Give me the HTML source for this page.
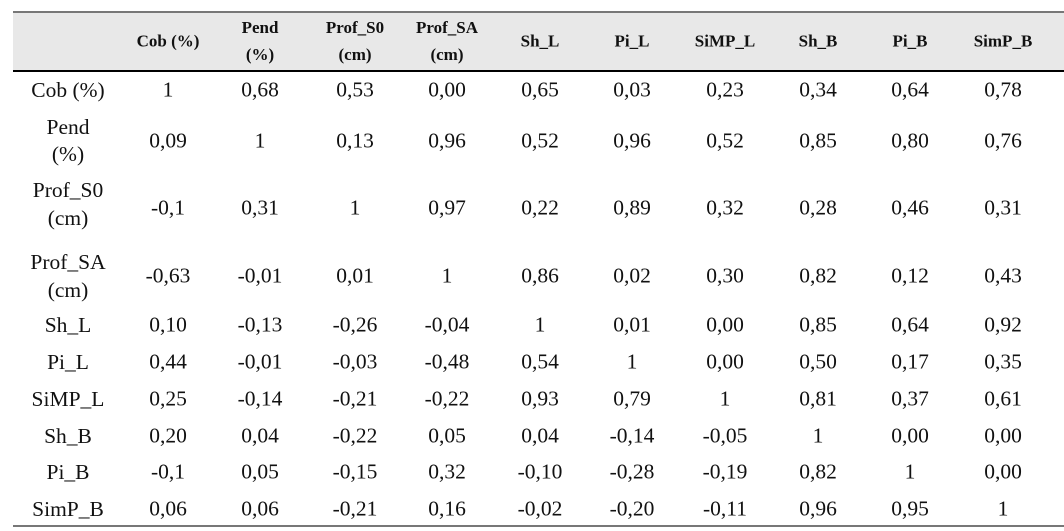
<!DOCTYPE html>
<html><head><meta charset="utf-8"><style>
body{margin:0;background:#fff;width:1064px;height:531px;overflow:hidden;position:relative;font-family:"Liberation Serif",serif;color:#111}
.t{position:absolute;transform:translate(-50%,-50%);white-space:nowrap;text-align:center}
.b{font-size:21.5px}
.h{font-size:17px;font-weight:bold;line-height:27px}
</style></head><body>
<div style="position:absolute;left:13px;top:12px;width:1051px;height:59px;background:#e8e8e8"></div>
<div style="position:absolute;left:13px;top:11px;width:1051px;height:2px;background:#777"></div>
<div style="position:absolute;left:13px;top:70px;width:1051px;height:2px;background:#000"></div>
<div style="position:absolute;left:13px;top:525px;width:1051px;height:2px;background:#777"></div>
<div id="tbl"></div>
<script>
const colHeaders=["Cob (%)","Pend<br>(%)","Prof_S0<br>(cm)","Prof_SA<br>(cm)","Sh_L","Pi_L","SiMP_L","Sh_B","Pi_B","SimP_B"];
const rowLabels=["Cob (%)","Pend<br>(%)","Prof_S0<br>(cm)","Prof_SA<br>(cm)","Sh_L","Pi_L","SiMP_L","Sh_B","Pi_B","SimP_B"];
const cells=[
["1","0,68","0,53","0,00","0,65","0,03","0,23","0,34","0,64","0,78"],
["0,09","1","0,13","0,96","0,52","0,96","0,52","0,85","0,80","0,76"],
["-0,1","0,31","1","0,97","0,22","0,89","0,32","0,28","0,46","0,31"],
["-0,63","-0,01","0,01","1","0,86","0,02","0,30","0,82","0,12","0,43"],
["0,10","-0,13","-0,26","-0,04","1","0,01","0,00","0,85","0,64","0,92"],
["0,44","-0,01","-0,03","-0,48","0,54","1","0,00","0,50","0,17","0,35"],
["0,25","-0,14","-0,21","-0,22","0,93","0,79","1","0,81","0,37","0,61"],
["0,20","0,04","-0,22","0,05","0,04","-0,14","-0,05","1","0,00","0,00"],
["-0,1","0,05","-0,15","0,32","-0,10","-0,28","-0,19","0,82","1","0,00"],
["0,06","0,06","-0,21","0,16","-0,02","-0,20","-0,11","0,96","0,95","1"]];
const colX=[168,260,355,447,540,632,725,818,910,1003];
const rowY=[90,141,208,276,325,362,399,436,472,509];
const labelY=[90,141,204,276,325,362,399,436,472,509];
const rowLH=[26,27,28,28,26,26,26,26,26,26];
const root=document.getElementById('tbl');
function add(html,x,y,cls,lh){const d=document.createElement('div');d.className='t '+cls;d.innerHTML=html;d.style.left=x+'px';d.style.top=y+'px';if(lh)d.style.lineHeight=lh+'px';root.appendChild(d);return d;}
colHeaders.forEach((h,i)=>{const d=add(h,colX[i],41,'h');

});
rowLabels.forEach((r,j)=>{const d=add(r,68,labelY[j],'b',rowLH[j]);


cells[j].forEach((v,i)=>{const c=add(v,colX[i],rowY[j],'b');

});});
</script>
</body></html>
